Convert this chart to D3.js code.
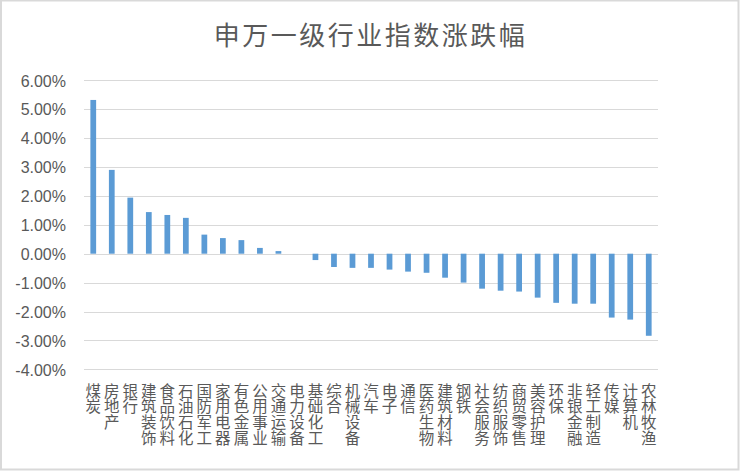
<!DOCTYPE html>
<html><head><meta charset="utf-8">
<script src="https://cdn.jsdelivr.net/npm/d3@7"></script>
<style>
html,body{margin:0;padding:0;background:#fff;}
svg{display:block;}
</style></head>
<body>
<svg id="chart" width="740" height="471"></svg>
<script>
const title = "申万一级行业指数涨跌幅";
const categories = ["煤炭","房地产","银行","建筑装饰","食品饮料","石油石化","国防军工","家用电器","有色金属","公用事业","交通运输","电力设备","基础化工","综合","机械设备","汽车","电子","通信","医药生物","建筑材料","钢铁","社会服务","纺织服饰","商贸零售","美容护理","环保","非银金融","轻工制造","传媒","计算机","农林牧渔"];
const values = [5.32,2.90,1.94,1.44,1.34,1.24,0.66,0.54,0.47,0.20,0.09,0.00,-0.22,-0.46,-0.49,-0.49,-0.55,-0.62,-0.66,-0.83,-1.00,-1.21,-1.28,-1.31,-1.52,-1.70,-1.73,-1.73,-2.21,-2.28,-2.84];
const yTicks = [6,5,4,3,2,1,0,-1,-2,-3,-4];

const svg = d3.select("#chart");
const W = 740, H = 471;
const grey = "#595959";

// outer frame
svg.append("rect").attr("x",1).attr("y",0.5).attr("width",W-2.5).attr("height",H-2)
  .attr("fill","none").attr("stroke","#d9d9d9").attr("stroke-width",2);

const x = d3.scaleBand().domain(categories).range([84,658]).padding(0);
const y = d3.scaleLinear().domain([-4,6]).range([369.3,80.3]);

// gridlines
svg.append("g").selectAll("line").data(yTicks).join("line")
  .attr("x1",84).attr("x2",658)
  .attr("y1",d=>Math.round(y(d))+0.5).attr("y2",d=>Math.round(y(d))+0.5)
  .attr("stroke","#d9d9d9").attr("stroke-width",1);

// y axis labels
const yAxis = d3.axisLeft(y).tickValues(yTicks).tickSize(0).tickPadding(0)
  .tickFormat(d=>d.toFixed(2)+"%");
const ya = svg.append("g").attr("transform","translate(66,0)").call(yAxis);
ya.select(".domain").remove();
ya.selectAll("text").attr("fill",grey)
  .style("font-family","'Liberation Sans', Arial, sans-serif").style("font-size","16px")
  .attr("dy","0.36em");

// bars
const bw = x.bandwidth()*0.31;
svg.append("g").selectAll("rect").data(categories).join("rect")
  .attr("x",(d)=>x(d)+x.bandwidth()/2-bw/2)
  .attr("width",bw)
  .attr("y",(d,i)=>Math.min(y(values[i]),y(0)))
  .attr("height",(d,i)=>Math.abs(y(values[i])-y(0)))
  .attr("fill","#5b9bd5");

// category labels (stacked vertically, one character per line)
svg.append("g").selectAll("text").data(categories).join("text")
  .attr("x",d=>x(d)+x.bandwidth()/2).attr("y",383)
  .style("writing-mode","vertical-rl").style("text-orientation","upright")
  .style("font-family","'Noto Sans CJK SC', sans-serif")
  .style("font-size","15.5px").style("letter-spacing","0.3px")
  .attr("fill",grey).text(d=>d);

// title
svg.append("text").attr("x",370.5).attr("y",45).attr("text-anchor","middle")
  .style("font-family","'Noto Sans CJK SC', sans-serif").style("font-size","26px")
  .style("letter-spacing","2.5px").attr("fill",grey).text(title);
</script>
</body></html>
